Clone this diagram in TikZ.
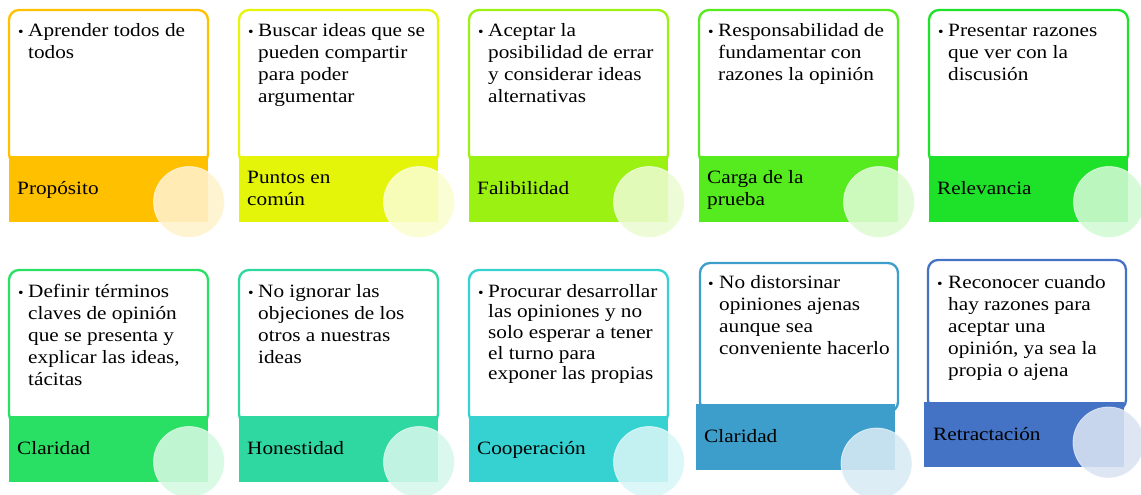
\documentclass[tikz,border=0pt]{standalone}
\usepackage{fontspec}
\setmainfont{Liberation Serif}[FakeStretch=1.13]
\definecolor{cA}{HTML}{FFC000}
\definecolor{cB}{HTML}{E4F509}
\definecolor{cC}{HTML}{9AF112}
\definecolor{cD}{HTML}{55EB1E}
\definecolor{cE}{HTML}{1EE22A}
\definecolor{cF}{HTML}{29E064}
\definecolor{cG}{HTML}{2ED8A0}
\definecolor{cH}{HTML}{36D2D2}
\definecolor{cI}{HTML}{3D9DCB}
\definecolor{cJ}{HTML}{4472C4}
\tikzset{
  outline/.style={draw, line width=2.3pt, rounded corners=10pt},
  bul/.style={anchor=base west, inner sep=0pt, font=\fontsize{14}{14}\selectfont},
  body/.style={anchor=base west, inner sep=0pt, font=\fontsize{18.8}{22}\selectfont, text=black},
  lab/.style={anchor=base west, inner sep=0pt, font=\fontsize{18.8}{22}\selectfont, text=black},
  bubble/.style={circle, minimum size=71pt, inner sep=0pt, fill opacity=0.88, draw=white, draw opacity=0.6, line width=0.8pt}
}
\newcommand\regcard[7]{%
  \draw[outline,#2] (#3,#4) rectangle ++(199,154);
  \fill[#2] (#3,#4+146) rectangle ++(199,66);
  \node[bul] (b#1) at (#3+9,#4+27) {\textbullet};
  \node[body] (t#1) at (#3+19,#4+27) {\parbox[t]{185pt}{\raggedright #5}};
  \node[lab] (l#1) at (#3+8,#4+146+#7) {\parbox[t]{185pt}{\raggedright #6}};
  \node[bubble,fill=#2!20!white] (c#1) at (#3+180,#4+192) {};
}
\begin{document}
\begin{tikzpicture}[x=1pt,y=-1pt]
\useasboundingbox (0,0) rectangle (1141,495);
% row 1
\regcard{1}{cA}{9}{10}{Aprender todos de\\todos}{Propósito}{38}
\regcard{2}{cB}{239}{10}{Buscar ideas que se\\pueden compartir\\para poder\\argumentar}{Puntos en\\común}{27}
\regcard{3}{cC}{469}{10}{Aceptar la\\posibilidad de errar\\y considerar ideas\\alternativas}{Falibilidad}{38}
\regcard{4}{cD}{699}{10}{Responsabilidad de\\fundamentar con\\razones la opinión}{Carga de la\\prueba}{27}
\regcard{5}{cE}{929}{10}{Presentar razones\\que ver con la\\discusión}{Relevancia}{38}
% row 2
\regcard{6}{cF}{9}{270}{Definir términos\\claves de opinión\\que se presenta y\\explicar las ideas,\\tácitas}{Claridad}{38}
\regcard{7}{cG}{239}{270}{No ignorar las\\objeciones de los\\otros a nuestras\\ideas}{Honestidad}{38}
\regcard{8}{cH}{469}{270}{\fontsize{18.8}{20.7}\selectfont Procurar desarrollar\\las opiniones y no\\solo esperar a tener\\el turno para\\exponer las propias}{Cooperación}{38}
% card 9 (shifted)
\draw[outline,cI] (700,263) rectangle (898,412);
\fill[cI] (696,404) rectangle (895,470);
\node[bul] (b9) at (708,288) {\textbullet};
\node[body] (t9) at (719,288) {\parbox[t]{185pt}{\raggedright No distorsinar\\opiniones ajenas\\aunque sea\\conveniente hacerlo}};
\node[lab] (l9) at (704,442) {Claridad};
\node[bubble,fill=cI!20!white] (c9) at (876.5,463.5) {};
% card 10 (shifted)
\draw[outline,cJ] (928,260) rectangle (1126,410);
\fill[cJ] (924,402) rectangle (1124,467);
\node[bul] (b10) at (937,288) {\textbullet};
\node[body] (t10) at (948,288) {\parbox[t]{185pt}{\raggedright Reconocer cuando\\hay razones para\\aceptar una\\opinión, ya sea la\\propia o ajena}};
\node[lab] (l10) at (933,440) {Retractación};
\node[bubble,fill=cJ!20!white] (c10) at (1108.5,442.5) {};
\end{tikzpicture}
\end{document}
